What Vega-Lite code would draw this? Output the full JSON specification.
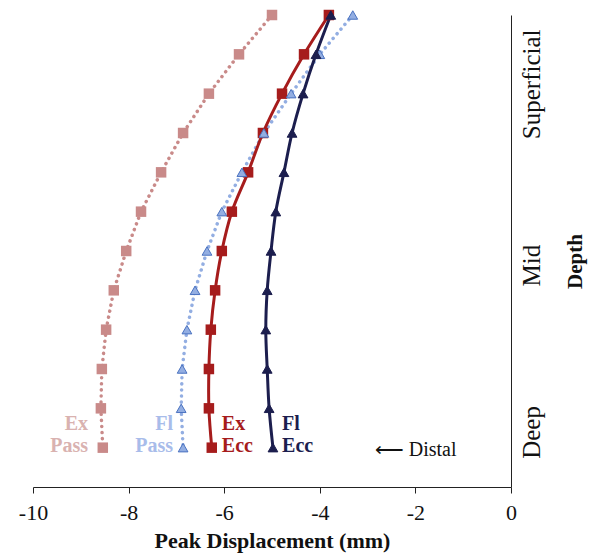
{
  "$schema": "https://vega.github.io/schema/vega-lite/v6.json",
  "width": 478,
  "height": 472,
  "autosize": "none",
  "padding": {"left": 33, "top": 15, "right": 82, "bottom": 72},
  "background": "white",
  "config": {"view": {"stroke": null}, "font": "Liberation Serif"},
  "datasets": {
    "pts": [
      {"series": "Ex Pass", "depth": 0, "disp": -5.0},
      {"series": "Ex Pass", "depth": 1, "disp": -5.69},
      {"series": "Ex Pass", "depth": 2, "disp": -6.32},
      {"series": "Ex Pass", "depth": 3, "disp": -6.86},
      {"series": "Ex Pass", "depth": 4, "disp": -7.32},
      {"series": "Ex Pass", "depth": 5, "disp": -7.74},
      {"series": "Ex Pass", "depth": 6, "disp": -8.05},
      {"series": "Ex Pass", "depth": 7, "disp": -8.31},
      {"series": "Ex Pass", "depth": 8, "disp": -8.47},
      {"series": "Ex Pass", "depth": 9, "disp": -8.56},
      {"series": "Ex Pass", "depth": 10, "disp": -8.58},
      {"series": "Ex Pass", "depth": 11, "disp": -8.54},
      {"series": "Fl Pass", "depth": 0, "disp": -3.31},
      {"series": "Fl Pass", "depth": 1, "disp": -4.0},
      {"series": "Fl Pass", "depth": 2, "disp": -4.6},
      {"series": "Fl Pass", "depth": 3, "disp": -5.17},
      {"series": "Fl Pass", "depth": 4, "disp": -5.63},
      {"series": "Fl Pass", "depth": 5, "disp": -6.05},
      {"series": "Fl Pass", "depth": 6, "disp": -6.36},
      {"series": "Fl Pass", "depth": 7, "disp": -6.61},
      {"series": "Fl Pass", "depth": 8, "disp": -6.78},
      {"series": "Fl Pass", "depth": 9, "disp": -6.88},
      {"series": "Fl Pass", "depth": 10, "disp": -6.9},
      {"series": "Fl Pass", "depth": 11, "disp": -6.86},
      {"series": "Ex Ecc", "depth": 0, "disp": -3.81},
      {"series": "Ex Ecc", "depth": 1, "disp": -4.33},
      {"series": "Ex Ecc", "depth": 2, "disp": -4.79},
      {"series": "Ex Ecc", "depth": 3, "disp": -5.19},
      {"series": "Ex Ecc", "depth": 4, "disp": -5.5},
      {"series": "Ex Ecc", "depth": 5, "disp": -5.84},
      {"series": "Ex Ecc", "depth": 6, "disp": -6.05},
      {"series": "Ex Ecc", "depth": 7, "disp": -6.19},
      {"series": "Ex Ecc", "depth": 8, "disp": -6.28},
      {"series": "Ex Ecc", "depth": 9, "disp": -6.32},
      {"series": "Ex Ecc", "depth": 10, "disp": -6.32},
      {"series": "Ex Ecc", "depth": 11, "disp": -6.26},
      {"series": "Fl Ecc", "depth": 0, "disp": -3.77},
      {"series": "Fl Ecc", "depth": 1, "disp": -4.08},
      {"series": "Fl Ecc", "depth": 2, "disp": -4.35},
      {"series": "Fl Ecc", "depth": 3, "disp": -4.58},
      {"series": "Fl Ecc", "depth": 4, "disp": -4.75},
      {"series": "Fl Ecc", "depth": 5, "disp": -4.92},
      {"series": "Fl Ecc", "depth": 6, "disp": -5.02},
      {"series": "Fl Ecc", "depth": 7, "disp": -5.1},
      {"series": "Fl Ecc", "depth": 8, "disp": -5.13},
      {"series": "Fl Ecc", "depth": 9, "disp": -5.1},
      {"series": "Fl Ecc", "depth": 10, "disp": -5.06},
      {"series": "Fl Ecc", "depth": 11, "disp": -4.98}
    ],
    "labels": [
      {"series": "Ex Pass", "text": "Ex", "x": -8.85, "y": 10.4, "side": "right"},
      {"series": "Ex Pass", "text": "Pass", "x": -8.85, "y": 10.95, "side": "right"},
      {"series": "Fl Pass", "text": "Fl", "x": -7.07, "y": 10.4, "side": "right"},
      {"series": "Fl Pass", "text": "Pass", "x": -7.07, "y": 10.95, "side": "right"},
      {"series": "Ex Ecc", "text": "Ex", "x": -6.05, "y": 10.4, "side": "left"},
      {"series": "Ex Ecc", "text": "Ecc", "x": -6.05, "y": 10.95, "side": "left"},
      {"series": "Fl Ecc", "text": "Fl", "x": -4.79, "y": 10.4, "side": "left"},
      {"series": "Fl Ecc", "text": "Ecc", "x": -4.79, "y": 10.95, "side": "left"},
      {"series": "note", "text": "⟵ Distal", "x": -2.85, "y": 11.07, "side": "left"}
    ]
  },
  "encoding": {
    "x": {
      "type": "quantitative",
      "scale": {"domain": [-10, 0], "nice": false, "zero": false},
      "axis": {
        "title": "Peak Displacement (mm)",
        "values": [-10, -8, -6, -4, -2, 0],
        "labelExpr": "toString(datum.value)",
        "labelFlush": false,
        "labelOverlap": false,
        "grid": false,
        "domainColor": "#222",
        "tickColor": "#222",
        "tickSize": 6,
        "labelFont": "Liberation Serif",
        "labelFontSize": 22,
        "labelColor": "#111",
        "labelPadding": 9,
        "titleFont": "Liberation Serif",
        "titleFontSize": 22,
        "titleFontWeight": "bold",
        "titleColor": "#111",
        "titlePadding": 7
      }
    },
    "y": {
      "type": "quantitative",
      "scale": {"domain": [0, 12], "nice": false, "zero": false, "reverse": true},
      "axis": {
        "orient": "right",
        "title": "Depth",
        "values": [1.75, 6.36, 10.6],
        "labelExpr": "datum.value < 3 ? 'Superficial' : (datum.value < 8 ? 'Mid' : 'Deep')",
        "labelFlush": false,
        "labelOverlap": false,
        "ticks": false,
        "grid": false,
        "domainColor": "#222",
        "labelAngle": 270,
        "labelAlign": "center",
        "labelBaseline": "top",
        "labelPadding": 8,
        "labelFont": "Liberation Serif",
        "labelFontSize": 25,
        "labelColor": "#111",
        "titleAngle": 270,
        "titleAlign": "center",
        "titleBaseline": "middle",
        "titleFont": "Liberation Serif",
        "titleFontSize": 21,
        "titleFontWeight": "bold",
        "titleColor": "#111",
        "titleX": 64,
        "titleY": 246
      }
    }
  },
  "layer": [
    {
      "data": {"name": "pts"},
      "transform": [{"filter": "indexof(datum.series, 'Pass') >= 0"}],
      "mark": {"type": "line", "strokeWidth": 3.5, "strokeDash": [0.1, 6], "strokeCap": "round"},
      "encoding": {
        "x": {"field": "disp"},
        "y": {"field": "depth"},
        "order": {"field": "depth"},
        "color": {
          "field": "series", "type": "nominal", "legend": null,
          "scale": {"domain": ["Ex Pass", "Fl Pass", "Ex Ecc", "Fl Ecc"], "range": ["#C98A89", "#93AEE2", "#A61C1C", "#1C1E4E"]}
        }
      }
    },
    {
      "data": {"name": "pts"},
      "transform": [{"filter": "indexof(datum.series, 'Ecc') >= 0"}],
      "mark": {"type": "line", "strokeWidth": 3, "interpolate": "catmull-rom"},
      "encoding": {
        "x": {"field": "disp"},
        "y": {"field": "depth"},
        "order": {"field": "depth"},
        "color": {"field": "series", "type": "nominal", "legend": null}
      }
    },
    {
      "data": {"name": "pts"},
      "transform": [{"filter": "indexof(datum.series, 'Ex') >= 0"}],
      "mark": {"type": "point", "shape": "square", "filled": true, "opacity": 1, "size": 110},
      "encoding": {
        "x": {"field": "disp"},
        "y": {"field": "depth"},
        "color": {"field": "series", "type": "nominal", "legend": null}
      }
    },
    {
      "data": {"name": "pts"},
      "transform": [{"filter": "indexof(datum.series, 'Fl') >= 0"}],
      "mark": {"type": "point", "shape": "triangle-up", "filled": true, "opacity": 1, "size": 95, "strokeWidth": 1},
      "encoding": {
        "x": {"field": "disp"},
        "y": {"field": "depth"},
        "color": {"field": "series", "type": "nominal", "legend": null},
        "stroke": {"condition": {"test": "datum.series === 'Fl Pass'", "value": "#4A72C0"}, "value": "#1C1E4E"}
      }
    },
    {
      "data": {"name": "labels"},
      "transform": [{"filter": "datum.side === 'right'"}],
      "mark": {"type": "text", "align": "right", "baseline": "middle", "font": "Liberation Serif", "fontSize": 20, "fontWeight": "bold"},
      "encoding": {
        "x": {"field": "x"},
        "y": {"field": "y"},
        "text": {"field": "text"},
        "fill": {
          "field": "series", "type": "nominal", "legend": null,
          "scale": {"domain": ["Ex Pass", "Fl Pass", "Ex Ecc", "Fl Ecc", "note"], "range": ["#D9B2B0", "#A8BCEA", "#A61C1C", "#1C1E4E", "#111111"]}
        }
      }
    },
    {
      "data": {"name": "labels"},
      "transform": [{"filter": "datum.side === 'left' && datum.series !== 'note'"}],
      "mark": {"type": "text", "align": "left", "baseline": "middle", "font": "Liberation Serif", "fontSize": 20, "fontWeight": "bold"},
      "encoding": {
        "x": {"field": "x"},
        "y": {"field": "y"},
        "text": {"field": "text"},
        "fill": {"field": "series", "type": "nominal", "legend": null}
      }
    },
    {
      "data": {"name": "labels"},
      "transform": [{"filter": "datum.series === 'note'"}],
      "mark": {"type": "text", "align": "left", "baseline": "middle", "font": "Liberation Serif", "fontSize": 20, "color": "#111"},
      "encoding": {
        "x": {"field": "x"},
        "y": {"field": "y"},
        "text": {"field": "text"}
      }
    }
  ]
}
